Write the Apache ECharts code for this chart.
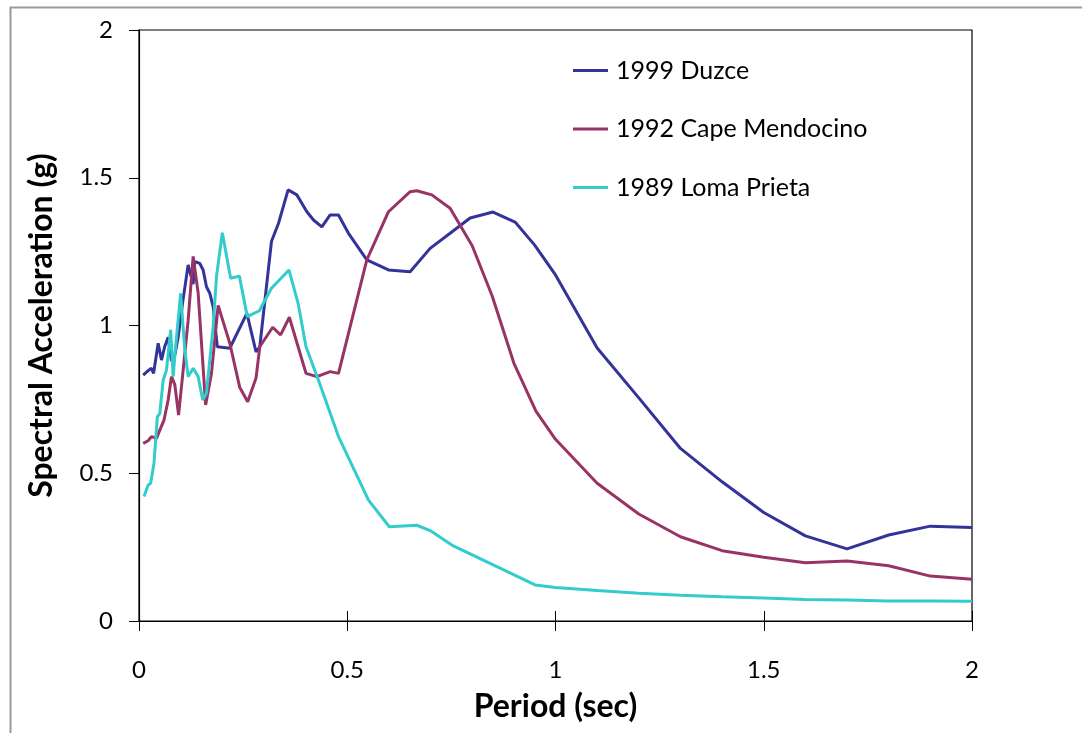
<!DOCTYPE html>
<html>
<head>
<meta charset="utf-8">
<script src="https://cdn.jsdelivr.net/npm/echarts@6/dist/echarts.min.js"></script>
<style>
html,body{margin:0;padding:0;background:#fff;}
#c{width:1082px;height:733px;}
</style>
</head>
<body>
<div id="c"></div>
<script>
var seriesNames = ['1999 Duzce', '1992 Cape Mendocino', '1989 Loma Prieta'];

var duzcePeriod = [0.01,0.02,0.03,0.035,0.046,0.054,0.062,0.07,0.078,0.086,0.094,0.105,0.118,0.13,0.134,0.146,0.154,0.162,0.17,0.178,0.188,0.218,0.259,0.281,0.29,0.318,0.335,0.358,0.379,0.403,0.419,0.439,0.459,0.479,0.503,0.547,0.599,0.651,0.699,0.747,0.795,0.85,0.903,0.95,1.0,1.1,1.2,1.3,1.4,1.5,1.6,1.7,1.8,1.9,2.0];
var duzceSA = [0.832,0.845,0.855,0.838,0.94,0.883,0.93,0.96,0.88,0.90,0.96,1.08,1.205,1.14,1.216,1.21,1.188,1.131,1.109,1.064,0.928,0.923,1.041,0.911,0.928,1.284,1.346,1.459,1.442,1.385,1.357,1.334,1.374,1.374,1.312,1.222,1.188,1.182,1.261,1.312,1.364,1.384,1.35,1.272,1.171,0.924,0.755,0.584,0.471,0.367,0.288,0.244,0.291,0.321,0.316];

var mendoPeriod = [0.01,0.022,0.03,0.042,0.05,0.06,0.07,0.078,0.086,0.095,0.106,0.118,0.13,0.142,0.16,0.174,0.19,0.218,0.242,0.261,0.281,0.29,0.321,0.34,0.361,0.382,0.401,0.427,0.459,0.479,0.547,0.599,0.651,0.667,0.703,0.747,0.8,0.848,0.9,0.953,1.0,1.1,1.2,1.3,1.4,1.5,1.6,1.7,1.8,1.9,2.0];
var mendoSA = [0.601,0.61,0.624,0.618,0.646,0.68,0.748,0.827,0.80,0.697,0.849,1.018,1.234,1.11,0.731,0.838,1.068,0.94,0.79,0.742,0.822,0.928,0.994,0.968,1.028,0.928,0.838,0.827,0.844,0.838,1.222,1.385,1.453,1.456,1.442,1.397,1.27,1.1,0.873,0.71,0.615,0.466,0.362,0.285,0.238,0.216,0.197,0.203,0.187,0.152,0.141];

var lomaPeriod = [0.012,0.022,0.028,0.036,0.044,0.05,0.058,0.066,0.076,0.082,0.088,0.094,0.1,0.11,0.118,0.13,0.142,0.153,0.162,0.178,0.186,0.2,0.22,0.241,0.26,0.289,0.318,0.36,0.382,0.401,0.435,0.479,0.551,0.601,0.667,0.699,0.751,0.951,1.0,1.1,1.2,1.3,1.4,1.5,1.6,1.7,1.8,1.9,2.0];
var lomaSA = [0.421,0.46,0.466,0.534,0.691,0.703,0.815,0.849,0.985,0.827,0.93,1.018,1.109,0.917,0.827,0.855,0.827,0.748,0.771,0.996,1.165,1.314,1.16,1.167,1.03,1.05,1.126,1.188,1.075,0.928,0.799,0.624,0.409,0.319,0.324,0.306,0.257,0.122,0.113,0.103,0.094,0.087,0.082,0.078,0.073,0.071,0.068,0.068,0.067];

var colors = ['#333399', '#993366', '#33CCCC'];

function pairs(xs, ys) { return xs.map(function (x, i) { return [x, ys[i]]; }); }

var FONT = 'Lato, "Open Sans", sans-serif';
var chart = echarts.init(document.getElementById('c'), null, {renderer: 'canvas'});

function lineSeries(name, xs, ys, color) {
  return {
    name: name, type: 'line', xAxisIndex: 0, yAxisIndex: 0,
    data: pairs(xs, ys), showSymbol: false, symbol: 'none',
    lineStyle: {color: color, width: 3}, itemStyle: {color: color},
    animation: false
  };
}

chart.setOption({
  animation: false,
  backgroundColor: '#fff',
  textStyle: {fontFamily: FONT},
  graphic: [{
    type: 'rect', left: 8, top: 5, z: -10,
    shape: {x: 0, y: 0, width: 1100, height: 800},
    style: {fill: 'none', stroke: '#9a9a9a', lineWidth: 2}
  }],
  grid: {left: 139, right: 110, top: 30, bottom: 112, show: true, borderColor: '#000', borderWidth: 1.2, backgroundColor: 'transparent'},
  legend: {
    orient: 'vertical', left: 573, top: 58, itemGap: 33.5, padding: 0,
    itemWidth: 35, itemHeight: 3, icon: 'rect',
    textStyle: {fontSize: 25, color: '#000', fontFamily: FONT, padding: [0, 0, 0, 3]},
    data: seriesNames
  },
  xAxis: [{
    type: 'value', min: 0, max: 2, interval: 0.5,
    name: 'Period (sec)', nameLocation: 'middle', nameGap: 70,
    nameTextStyle: {fontSize: 32, fontWeight: 'bold', color: '#000', fontFamily: FONT},
    axisLine: {lineStyle: {color: '#000', width: 1.2}},
    axisTick: {show: true, length: 10, lineStyle: {color: '#000'}},
    axisLabel: {fontSize: 24, color: '#000', margin: 37, fontFamily: FONT},
    splitLine: {show: false}
  }, {
    type: 'value', min: 0, max: 2, interval: 0.5, position: 'bottom',
    axisLine: {show: false},
    axisTick: {show: true, inside: true, length: 10, lineStyle: {color: '#000'}},
    axisLabel: {show: false}, splitLine: {show: false}
  }],
  yAxis: {
    type: 'value', min: 0, max: 2, interval: 0.5,
    name: 'Spectral Acceleration (g)', nameLocation: 'middle', nameGap: 81, nameRotate: 90,
    nameTextStyle: {fontSize: 32, fontWeight: 'bold', color: '#000', fontFamily: FONT},
    axisLine: {show: true, lineStyle: {color: '#000', width: 1.2}},
    axisTick: {show: true, length: 10, lineStyle: {color: '#000'}},
    axisLabel: {fontSize: 24, color: '#000', margin: 26, fontFamily: FONT},
    splitLine: {show: false}
  },
  series: [
    lineSeries(seriesNames[0], duzcePeriod, duzceSA, colors[0]),
    lineSeries(seriesNames[1], mendoPeriod, mendoSA, colors[1]),
    lineSeries(seriesNames[2], lomaPeriod, lomaSA, colors[2])
  ]
});
</script>
</body>
</html>
